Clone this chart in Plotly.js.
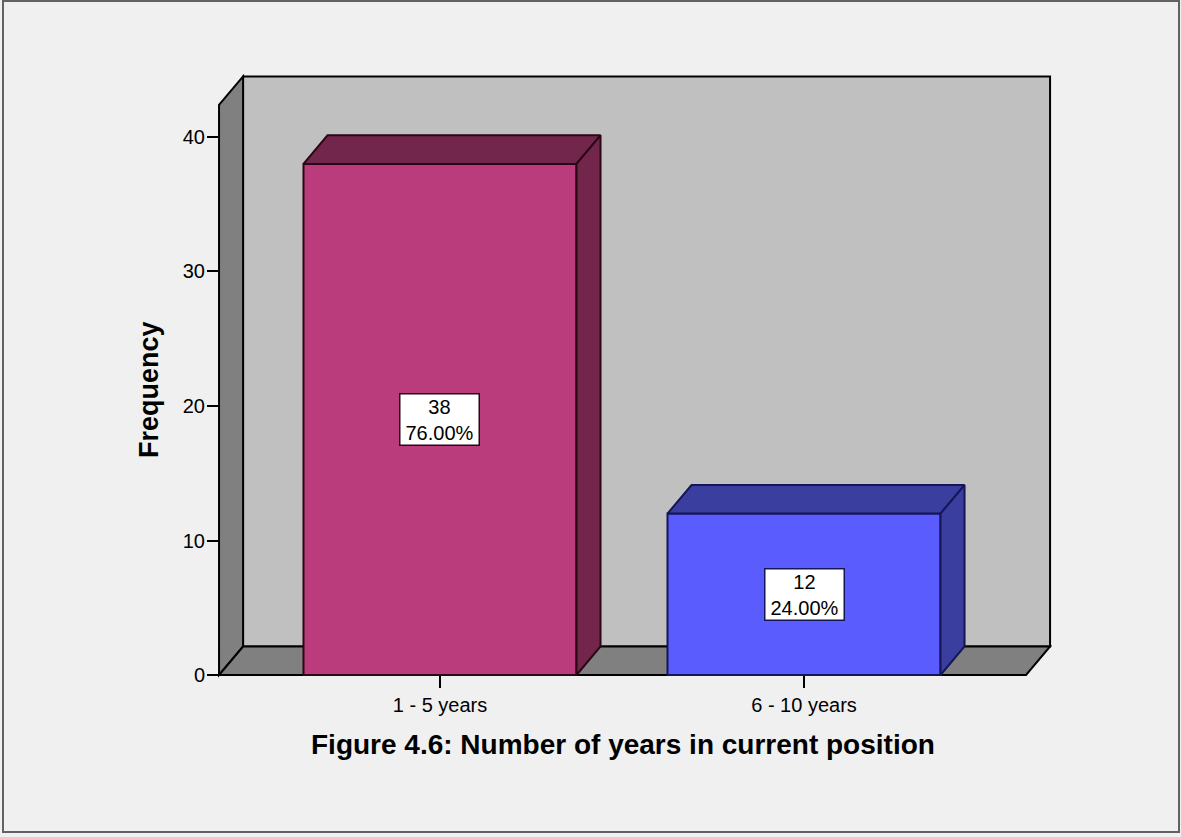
<!DOCTYPE html>
<html>
<head>
<meta charset="utf-8">
<script src="https://cdn.plot.ly/plotly-3.0.1.min.js"></script>
<style>
  html, body { margin: 0; padding: 0; background: #f0f0f0; }
  #wrap { position: relative; width: 1181px; height: 837px; }
  #chart { width: 1181px; height: 837px; }
  #frame {
    position: absolute; left: 2px; top: 0px; width: 1174px; height: 829px;
    border: 2px solid #626262; pointer-events: none;
  }
</style>
</head>
<body>
<div id="wrap">
  <div id="chart"></div>
  <div id="frame"></div>
</div>
<script>
// Frequency table: years in current position
const categories = ['1 - 5 years', '6 - 10 years'];
const frequencies = [38, 12];
const yTickValues = [0, 10, 20, 30, 40];

// Bar colours: front face, shaded top/side faces, outline
const faceColors = ['#BA3C7D', '#5B5CFE'];
const shadeColors = ['#72264B', '#3A3E9F'];
const edgeColors = ['#2B0716', '#141656'];

const chartTitle = 'Figure 4.6: Number of years in current position';
const yTitle = 'Frequency';

// Box geometry (axis units)
const X_LEFT = -0.607, X_RIGHT = 1.61;
const WALL_TOP = 42.38;
const DX = 0.066, DY = 2.12;     // depth offset of the 3D box
const BAR_W = 0.75;

const FONT = 'Liberation Sans, Arial, Helvetica, sans-serif';

function path(pts) {
  return 'M ' + pts.map(p => p[0] + ',' + p[1]).join(' L ') + ' Z';
}

const total = frequencies.reduce((a, b) => a + b, 0);
const xs = categories.map((_, i) => i);

// Walls and floor of the box
const shapes = [
  { type: 'rect', xref: 'x', yref: 'y', layer: 'below',
    x0: X_LEFT + DX, x1: X_RIGHT + DX, y0: DY, y1: WALL_TOP + DY,
    fillcolor: '#c0c0c0', line: { color: '#000', width: 2 } },
  { type: 'path', xref: 'x', yref: 'y', layer: 'below',
    path: path([[X_LEFT, 0], [X_LEFT, WALL_TOP], [X_LEFT + DX, WALL_TOP + DY], [X_LEFT + DX, DY]]),
    fillcolor: '#808080', line: { color: '#000', width: 2 } },
  { type: 'path', xref: 'x', yref: 'y', layer: 'below',
    path: path([[X_LEFT, 0], [X_RIGHT, 0], [X_RIGHT + DX, DY], [X_LEFT + DX, DY]]),
    fillcolor: '#808080', line: { color: '#000', width: 2 } }
];

// Front faces of the bars
const traces = [{
  type: 'bar', x: xs, y: frequencies, width: BAR_W,
  marker: { color: faceColors, line: { color: edgeColors, width: 2 } },
  hoverinfo: 'skip', showlegend: false
}];

// Top and side faces of each bar
frequencies.forEach((v, i) => {
  const l = xs[i] - BAR_W / 2, r = xs[i] + BAR_W / 2;
  const top = [[l, v], [r, v], [r + DX, v + DY], [l + DX, v + DY], [l, v]];
  const side = [[r, 0], [r + DX, DY], [r + DX, v + DY], [r, v], [r, 0]];
  [top, side].forEach(poly => traces.push({
    type: 'scatter', mode: 'lines', fill: 'toself',
    x: poly.map(p => p[0]), y: poly.map(p => p[1]),
    fillcolor: shadeColors[i], line: { color: edgeColors[i], width: 2 },
    hoverinfo: 'skip', showlegend: false
  }));
});

// Value labels: count and share of total
const annotations = frequencies.map((v, i) => ({
  x: xs[i], y: v / 2, xref: 'x', yref: 'y',
  text: v + '<br>' + (v / total * 100).toFixed(2) + '%',
  showarrow: false, align: 'center', width: 76, height: 48,
  font: { family: FONT, size: 20, color: '#000' },
  bgcolor: '#ffffff', bordercolor: edgeColors[i], borderwidth: 1.5, borderpad: 1
}));

annotations.push({
  x: -0.0759, xref: 'paper', y: WALL_TOP / 2, yref: 'y',
  text: '<b>' + yTitle + '</b>', textangle: -90, showarrow: false,
  xanchor: 'center', yanchor: 'middle',
  font: { family: FONT, size: 27, color: '#000' }
});

annotations.push({
  x: (X_LEFT + X_RIGHT) / 2, xref: 'x', y: -0.1047, yref: 'paper',
  text: '<b>' + chartTitle + '</b>', showarrow: false,
  xanchor: 'center', yanchor: 'middle',
  font: { family: FONT, size: 28, color: '#000' }
});

const layout = {
  width: 1181, height: 837,
  margin: { l: 213, r: 125, t: 70, b: 156 },
  paper_bgcolor: '#f0f0f0', plot_bgcolor: 'rgba(0,0,0,0)',
  showlegend: false,
  xaxis: {
    range: [-0.6236, 1.6923], tickvals: xs, ticktext: categories,
    ticks: 'outside', ticklen: 12, tickwidth: 2, tickcolor: '#000',
    showgrid: false, zeroline: false, showline: false,
    anchor: 'free', position: 0.00982,
    tickfont: { family: FONT, size: 20, color: '#000' }
  },
  yaxis: {
    range: [-0.446, 44.98], tickvals: yTickValues,
    ticks: 'outside', ticklen: 12, tickwidth: 2, tickcolor: '#000',
    showgrid: false, zeroline: false, showline: false,
    anchor: 'free', position: 0.00712, ticklabelstandoff: -2,
    tickfont: { family: FONT, size: 20, color: '#000' }
  },
  shapes: shapes,
  annotations: annotations
};

Plotly.newPlot('chart', traces, layout, { staticPlot: true, displayModeBar: false });
</script>
</body>
</html>
